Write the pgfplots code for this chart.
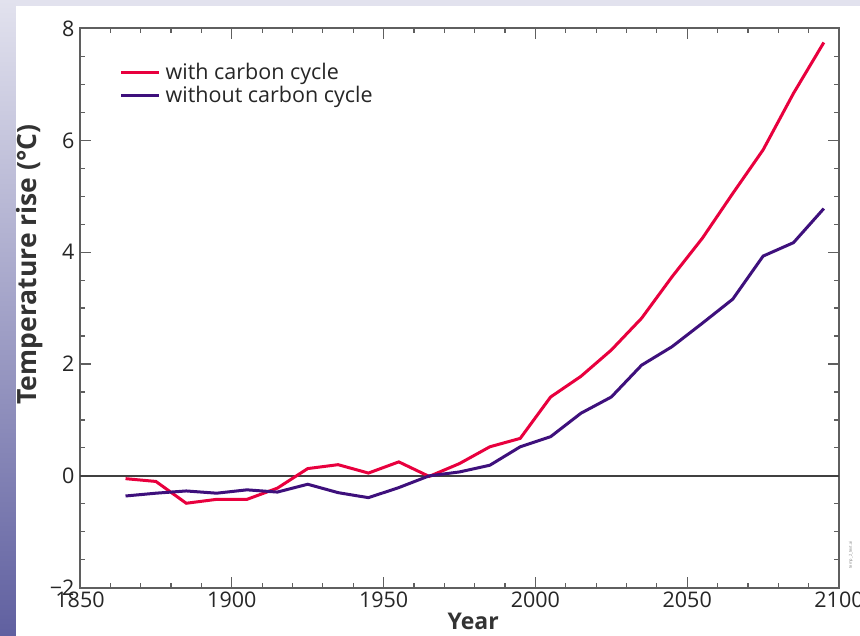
\documentclass[border=0pt]{standalone}
\usepackage{pgfplots}
\pgfplotsset{compat=1.18}
\usepackage{fontspec}
\setmainfont{Open Sans}
\definecolor{withcc}{RGB}{232,0,62}
\definecolor{withoutcc}{RGB}{62,16,124}
\definecolor{axisgray}{RGB}{95,95,95}
\definecolor{bgtop}{RGB}{226,226,238}
\definecolor{bgbottom}{RGB}{96,96,160}
\begin{document}
\begin{tikzpicture}
\useasboundingbox (0bp,0bp) rectangle (860bp,636bp);
\shade[top color=bgtop, bottom color=bgbottom] (0bp,0bp) rectangle (860bp,636bp);
\fill[bgtop] (16bp,620bp) rectangle (860bp,636bp);
\fill[white] (16bp,0bp) rectangle (860bp,630bp);
\begin{axis}[
    at={(80bp,48.3bp)}, anchor=south west,
    scale only axis, width=759bp, height=559.2bp,
    xmin=1850, xmax=2100,
    ymin=-2, ymax=8,
    xtick={1850,1900,1950,2000,2050,2100},
    xticklabels={1850,1900,1950,2000,2050,2100},
    ytick={-2,0,2,4,6,8},
    yticklabels={−2,0,2,4,6,8},
    minor x tick num=4,
    minor y tick num=3,
    tick align=inside,
    major tick length=11bp,
    minor tick length=5bp,
    tick style={axisgray, line width=1.2bp},
    axis line style={axisgray, line width=2bp},
    ticklabel style={font=\fontsize{21.5bp}{26bp}\selectfont, text=black!85},
    xticklabel style={yshift=-1bp},
    yticklabel style={xshift=-2bp},
    xlabel={Year},
    ylabel={Temperature rise (°C)},
    every axis x label/.style={at={(axis description cs:0.518,-0.061)}, anchor=center,
        font=\bfseries\fontsize{23bp}{26bp}\selectfont, text=black!80},
    every axis y label/.style={at={(axis description cs:-0.066,0.578)}, rotate=90, anchor=center,
        font=\bfseries\fontsize{26.5bp}{30bp}\selectfont, text=black!80},
    legend style={at={(axis description cs:0.052,0.942)}, anchor=north west,
        draw=none, fill=none, inner sep=0pt,
        font=\fontsize{21.5bp}{23.5bp}\selectfont,
        row sep=1.5bp,
        nodes={text=black!85, inner xsep=5bp}},
    legend cell align=left,
    legend image code/.code={\draw[#1] (0bp,0bp) -- (38bp,0bp);},
]
\draw[black!75, line width=1.3bp] (axis cs:1850,0) -- (axis cs:2100,0);
\addplot[withcc, line width=3bp] coordinates {
(1865,-0.05)(1875,-0.10)(1885,-0.49)(1895,-0.42)(1905,-0.42)(1915,-0.22)
(1925,0.13)(1935,0.20)(1945,0.05)(1955,0.25)(1965,-0.01)(1975,0.22)
(1985,0.52)(1995,0.67)(2005,1.41)(2015,1.78)(2025,2.25)(2035,2.82)
(2045,3.56)(2055,4.25)(2065,5.05)(2075,5.83)(2085,6.84)(2095,7.75)
};
\addlegendentry{with carbon cycle}
\addplot[withoutcc, line width=3bp] coordinates {
(1865,-0.36)(1875,-0.31)(1885,-0.27)(1895,-0.31)(1905,-0.25)(1915,-0.29)
(1925,-0.15)(1935,-0.30)(1945,-0.39)(1955,-0.21)(1965,0.00)(1975,0.07)
(1985,0.19)(1995,0.52)(2005,0.70)(2015,1.12)(2025,1.41)(2035,1.98)
(2045,2.31)(2055,2.73)(2065,3.16)(2075,3.93)(2085,4.17)(2095,4.78)
};
\addlegendentry{without carbon cycle}
\end{axis}
\node[rotate=90, font=\fontsize{4bp}{5bp}\selectfont, text=black!50] at (851bp,81bp) {temp\_2\_text.ai};
\end{tikzpicture}
\end{document}
